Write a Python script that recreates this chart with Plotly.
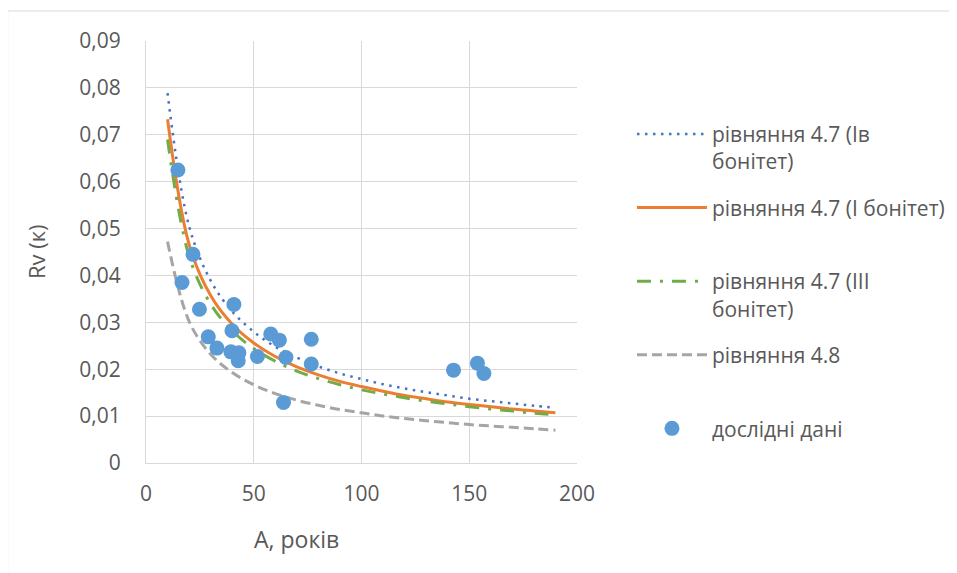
import plotly.graph_objects as go

# Model curves (at nodes)
A_curve = [10, 20, 30, 40, 50, 60, 70, 80, 90, 100, 110, 120, 130, 140, 150, 160, 170, 180, 190]
r_iv = [0.0789, 0.0505, 0.0389, 0.0323, 0.0280, 0.0248, 0.0225, 0.0206, 0.0191, 0.0179,
        0.0168, 0.0159, 0.0151, 0.0144, 0.0137, 0.0132, 0.0127, 0.0122, 0.0118]
r_i = [0.0733, 0.0466, 0.0357, 0.0296, 0.0256, 0.0227, 0.0205, 0.0188, 0.0174, 0.0163,
       0.0153, 0.0144, 0.0137, 0.0130, 0.0125, 0.0120, 0.0115, 0.0111, 0.0107]
r_iii = [0.0690, 0.0441, 0.0339, 0.0282, 0.0244, 0.0217, 0.0196, 0.0180, 0.0167, 0.0156,
         0.0147, 0.0139, 0.0132, 0.0126, 0.0120, 0.0115, 0.0111, 0.0106, 0.0103]
r_48 = [0.0472, 0.0302, 0.0232, 0.0193, 0.0167, 0.0148, 0.0134, 0.0123, 0.0114, 0.0107,
        0.0100, 0.0095, 0.0090, 0.0086, 0.0082, 0.0079, 0.0076, 0.0073, 0.0070]

# Experimental data
A_obs = [14.8, 16.7, 21.8, 24.8, 28.9, 32.9, 39.4, 39.9, 40.8, 42.8, 43.1, 51.7, 57.9, 61.9,
         63.8, 64.9, 76.7, 76.7, 142.7, 153.8, 156.8]
r_obs = [0.0625, 0.0385, 0.0445, 0.0328, 0.0269, 0.0245, 0.0237, 0.0282, 0.0338, 0.0218,
         0.0235, 0.0227, 0.0275, 0.0262, 0.0129, 0.0225, 0.0264, 0.0211, 0.0198, 0.0213, 0.0191]

y_ticks = [0, 0.01, 0.02, 0.03, 0.04, 0.05, 0.06, 0.07, 0.08, 0.09]
y_tick_text = ["0", "0,01", "0,02", "0,03", "0,04", "0,05", "0,06", "0,07", "0,08", "0,09"]
x_ticks = [0, 50, 100, 150, 200]

names = ["рівняння 4.7 (Ів<br>бонітет)", "рівняння 4.7 (І бонітет)<br> ",
         "рівняння 4.7 (ІІІ<br>бонітет)", "рівняння 4.8<br> ", "дослідні дані<br> "]
x_title = "А, років"
y_title = "Rv (к)"

FONT = "Open Sans"
TXT = "#595959"

fig = go.Figure()
fig.add_trace(go.Scatter(x=A_curve, y=r_iv, mode="lines", name=names[0], legendgroup="a",
                         line=dict(color="#4472C4", width=2.5, dash="2.5px,5.5px", shape="spline")))
fig.add_trace(go.Scatter(x=A_curve, y=r_i, mode="lines", name=names[1], legendgroup="b",
                         line=dict(color="#ED7D31", width=3, shape="spline")))
fig.add_trace(go.Scatter(x=A_curve, y=r_iii, mode="lines", name=names[2], legendgroup="c",
                         line=dict(color="#70AD47", width=3, dash="14px,9px,3px,9px", shape="spline")))
fig.add_trace(go.Scatter(x=A_curve, y=r_48, mode="lines", name=names[3], legendgroup="d",
                         line=dict(color="#A5A5A5", width=3, dash="10px,5px", shape="spline")))
fig.add_trace(go.Scatter(x=A_obs, y=r_obs, mode="markers", name=names[4], legendgroup="e",
                         marker=dict(color="#5B9BD5", size=15, line=dict(width=0))))

# page body has an 8px default margin, so the figure is placed 8px in
fig.update_layout(
    width=949, height=565,
    margin=dict(l=138, r=380, t=33, b=110),
    paper_bgcolor="white", plot_bgcolor="white",
    font=dict(family=FONT, size=21, color=TXT),
    showlegend=True,
    legend=dict(x=0.6575, xref="container", xanchor="left", y=0.8275, yanchor="top", valign="top",
                itemwidth=70, tracegroupgap=16, font=dict(family=FONT, size=21, color=TXT),
                bgcolor="rgba(0,0,0,0)"),
    xaxis=dict(range=[0, 200], tickvals=x_ticks, showgrid=True, gridcolor="#D9D9D9", gridwidth=1,
               zeroline=False, showline=True, linecolor="#D9D9D9", linewidth=1,
               ticks="outside", ticklen=12, tickcolor="rgba(0,0,0,0)",
               tickfont=dict(family=FONT, size=21, color=TXT)),
    yaxis=dict(range=[0, 0.09], tickvals=y_ticks, ticktext=y_tick_text, showgrid=True,
               gridcolor="#D9D9D9", gridwidth=1, zeroline=False, showline=True,
               linecolor="#D9D9D9", linewidth=1,
               ticks="outside", ticklen=20, tickcolor="rgba(0,0,0,0)",
               tickfont=dict(family=FONT, size=21, color=TXT)),
    annotations=[
        dict(text=x_title, xref="paper", yref="paper", x=0.350, y=-0.18, xanchor="center",
             yanchor="middle", showarrow=False, font=dict(family=FONT, size=23, color=TXT)),
        dict(text=y_title, xref="paper", yref="paper", x=-0.255, y=0.5, xanchor="center",
             yanchor="middle", textangle=-90, showarrow=False,
             font=dict(family=FONT, size=22, color=TXT)),
    ],
    shapes=[dict(type="rect", xref="paper", yref="paper", x0=-0.321, x1=2.2, y0=-0.6, y1=1.071,
                 line=dict(color="#D9D9D9", width=1), fillcolor="rgba(0,0,0,0)", layer="below")],
)

fig.write_html("out.html")
